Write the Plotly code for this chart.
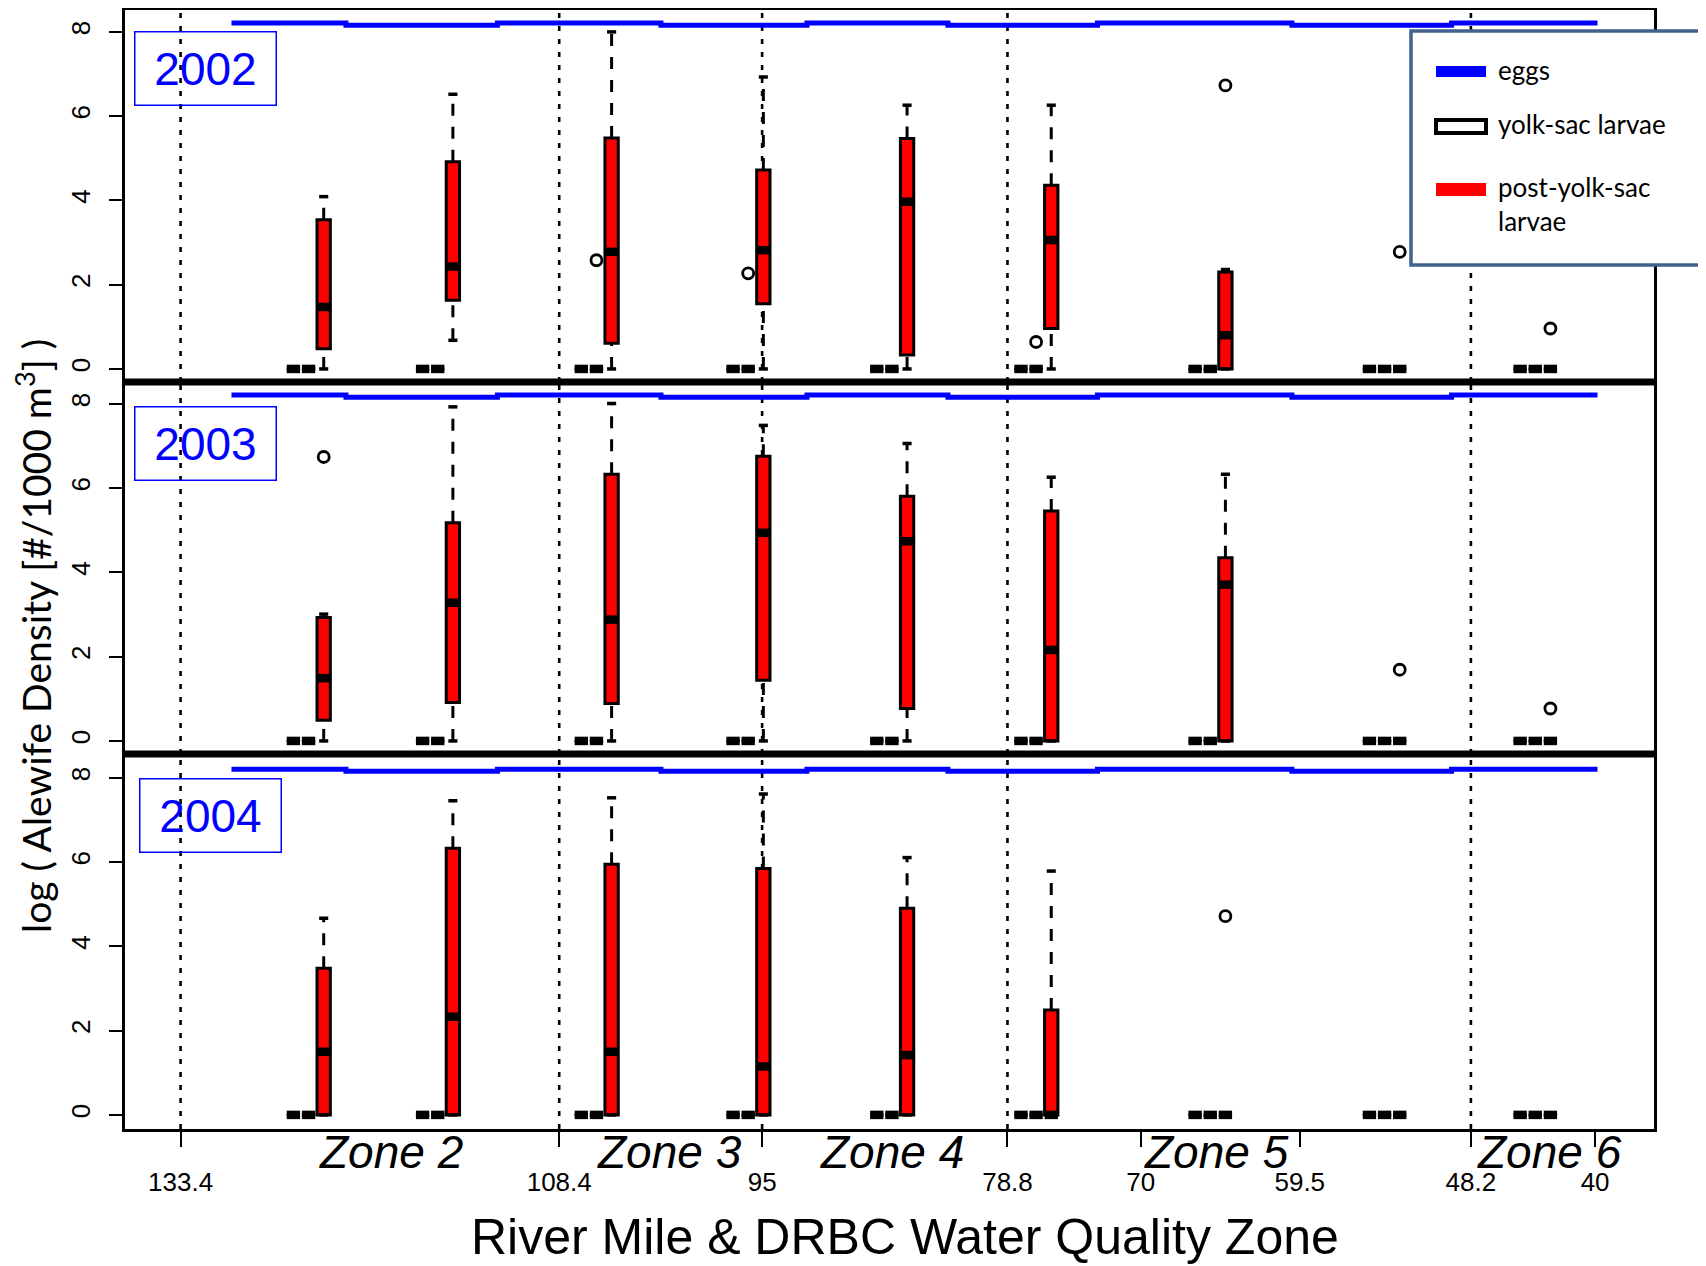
import plotly.graph_objects as go

# ---------------- data ----------------
years = ["2002", "2003", "2004"]
station_mile = [123.95, 115.42, 104.94, 94.92, 85.43, 75.91, 64.41, 52.90, 42.95]
zone_bounds = [133.4, 108.4, 95.0, 78.8, 48.2]
tick_miles = [133.4, 108.4, 95, 78.8, 70, 59.5, 48.2, 40]
tick_labels = ["133.4", "108.4", "95", "78.8", "70", "59.5", "48.2", "40"]
zone_names = ["Zone 2", "Zone 3", "Zone 4", "Zone 5", "Zone 6"]
zone_label_mile = [119.5, 101.1, 86.4, 65.0, 43.0]

# post-yolk-sac larvae: box statistics of log(density)
post_low = {
    "2002": [0.00, 0.68, 0.00, 0.00, 0.00, 0.00, 0.00, 0.00, 0.00],
    "2003": [0.00, 0.00, 0.00, 0.00, 0.00, 0.00, 0.00, 0.00, 0.00],
    "2004": [0.00, 0.00, 0.00, 0.00, 0.00, 0.00, 0.00, 0.00, 0.00],
}
post_q1 = {
    "2002": [0.48, 1.63, 0.61, 1.55, 0.33, 0.96, 0.00, 0.00, 0.00],
    "2003": [0.49, 0.91, 0.89, 1.44, 0.77, 0.00, 0.00, 0.00, 0.00],
    "2004": [0.00, 0.00, 0.00, 0.00, 0.00, 0.00, 0.00, 0.00, 0.00],
}
post_median = {
    "2002": [1.47, 2.43, 2.78, 2.82, 3.97, 3.06, 0.80, 0.00, 0.00],
    "2003": [1.49, 3.28, 2.88, 4.94, 4.74, 2.16, 3.71, 0.00, 0.00],
    "2004": [1.50, 2.33, 1.50, 1.15, 1.42, 0.00, 0.00, 0.00, 0.00],
}
post_q3 = {
    "2002": [3.54, 4.92, 5.48, 4.72, 5.47, 4.36, 2.30, 0.00, 0.00],
    "2003": [2.93, 5.18, 6.33, 6.76, 5.81, 5.46, 4.35, 0.00, 0.00],
    "2004": [3.48, 6.33, 5.95, 5.85, 4.91, 2.49, 0.00, 0.00, 0.00],
}
post_high = {
    "2002": [4.09, 6.52, 8.00, 6.93, 6.26, 6.26, 2.36, 0.00, 0.00],
    "2003": [3.01, 7.93, 8.01, 7.49, 7.06, 6.26, 6.33, 0.00, 0.00],
    "2004": [4.67, 7.46, 7.53, 7.62, 6.11, 5.79, 0.00, 0.00, 0.00],
}
# eggs and yolk-sac larvae boxes: every quartile at zero
eggs_box = {
    "2002": [0, 0, 0, 0, 0, 0, 0, 0, 0],
    "2003": [0, 0, 0, 0, 0, 0, 0, 0, 0],
    "2004": [0, 0, 0, 0, 0, 0, 0, 0, 0],
}
yolk_box = {
    "2002": [0, 0, 0, 0, 0, 0, 0, 0, 0],
    "2003": [0, 0, 0, 0, 0, 0, 0, 0, 0],
    "2004": [0, 0, 0, 0, 0, 0, 0, 0, 0],
}
# outliers: (station index, value)
yolk_out_station = {"2002": [2, 3, 5], "2003": [], "2004": []}
yolk_out_value = {"2002": [2.58, 2.27, 0.64], "2003": [], "2004": []}
post_out_station = {"2002": [6, 7, 8], "2003": [0, 7, 8], "2004": [6]}
post_out_value = {"2002": [6.73, 2.78, 0.96], "2003": [6.74, 1.69, 0.77], "2004": [4.72]}

# eggs line near the top of each panel (segment breaks in river miles, level per segment)
egg_break_mile = [130.04, 122.48, 112.48, 101.68, 92.04, 82.73, 72.86, 60.02, 49.48, 39.84]
egg_level = [8.21, 8.16, 8.21, 8.16, 8.21, 8.16, 8.21, 8.16, 8.21]

# ---------------- styling ----------------
# the page adds an 8px body margin, so the figure is 8px smaller than the window
OFF = 8
W, H = 1706 - OFF, 1266 - OFF
PL, PR, PT, PB = 125, 1654, 10, 1129          # plot area in window pixels
ML, MR, MT, MB = PL - OFF, 1706 - PR, PT - OFF, 1266 - PB
PW, PH = PR - PL, PB - PT
GAP = 1.0        # spacing between the three boxes of a station (miles)
BOXW = 0.88      # box width (miles)
CAPW = 0.30      # half-width of whisker staples
AX_FONT = "Liberation Sans, Arial, Helvetica, sans-serif"
CAL_FONT = "Lato, Open Sans, sans-serif"


def pxx(fx):
    return (fx - PL) / PW


def pxy(fy):
    return (PB - fy) / PH


# panel layout: top 2002, middle 2003, bottom 2004
axis_ids = {"2002": ("x3", "y3"), "2003": ("x2", "y2"), "2004": ("x", "y")}
yranges = {"2002": [-0.31, 8.52], "2003": [-0.31, 8.52], "2004": [-0.335, 8.57]}
b1, b2 = pxy(754), pxy(382)
ydomains = {"2002": [b2, 1.0], "2003": [b1, b2], "2004": [0.0, b1]}
year_label_pos = {"2002": (131.76, 7.14), "2003": (131.76, 7.07), "2004": (131.43, 7.12)}

fig = go.Figure()


def segs(xs0, xs1, ys0, ys1):
    X, Y = [], []
    for a, b, c, d in zip(xs0, xs1, ys0, ys1):
        X += [a, b, None]
        Y += [c, d, None]
    return X, Y


for yr in years:
    xa, ya = axis_ids[yr]
    groups = [
        (2, eggs_box[yr], eggs_box[yr], eggs_box[yr], eggs_box[yr], eggs_box[yr], "white", "eggs"),
        (1, yolk_box[yr], yolk_box[yr], yolk_box[yr], yolk_box[yr], yolk_box[yr], "white", "yolk-sac larvae"),
        (0, post_low[yr], post_q1[yr], post_median[yr], post_q3[yr], post_high[yr], "#FF0000",
         "post-yolk-sac larvae"),
    ]
    # eggs line
    ex, ey = [], []
    for i, lev in enumerate(egg_level):
        ex += [egg_break_mile[i], egg_break_mile[i + 1]]
        ey += [lev, lev]
    fig.add_trace(go.Scatter(x=ex, y=ey, mode="lines", line=dict(color="#0000FF", width=5),
                             xaxis=xa, yaxis=ya, showlegend=False, hoverinfo="skip", name="eggs"))
    for k, lo, q1, med, q3, hi, fill, name in groups:
        xs = [m + k * GAP for m in station_mile]
        # dashed whiskers
        wx0, wy0 = segs(xs, xs, q3, hi)
        wx1, wy1 = segs(xs, xs, lo, q1)
        fig.add_trace(go.Scatter(x=wx0 + wx1, y=wy0 + wy1, mode="lines",
                                 line=dict(color="black", width=3, dash="12px,11px"),
                                 xaxis=xa, yaxis=ya, showlegend=False, hoverinfo="skip"))
        # staples
        left = [x - CAPW for x in xs]
        right = [x + CAPW for x in xs]
        sx0, sy0 = segs(left, right, hi, hi)
        sx1, sy1 = segs(left, right, lo, lo)
        fig.add_trace(go.Scatter(x=sx0 + sx1, y=sy0 + sy1, mode="lines",
                                 line=dict(color="black", width=3.5),
                                 xaxis=xa, yaxis=ya, showlegend=False, hoverinfo="skip"))
        # boxes
        fig.add_trace(go.Box(x=xs, q1=q1, median=med, q3=q3, lowerfence=q1, upperfence=q3,
                             orientation="v", width=BOXW, fillcolor=fill,
                             line=dict(color="black", width=3), whiskerwidth=0,
                             boxpoints=False, xaxis=xa, yaxis=ya, showlegend=False,
                             hoverinfo="skip", name=name))
        # thick median bars
        mx, my = segs([x - BOXW / 2 for x in xs], [x + BOXW / 2 for x in xs], med, med)
        fig.add_trace(go.Scatter(x=mx, y=my, mode="lines", line=dict(color="black", width=8.5),
                                 xaxis=xa, yaxis=ya, showlegend=False, hoverinfo="skip"))
    # outliers
    ox = [station_mile[i] + GAP for i in yolk_out_station[yr]] + [station_mile[i] for i in post_out_station[yr]]
    oy = yolk_out_value[yr] + post_out_value[yr]
    fig.add_trace(go.Scatter(x=ox, y=oy, mode="markers",
                             marker=dict(symbol="circle-open", size=11, color="black", line=dict(width=2.8)),
                             xaxis=xa, yaxis=ya, showlegend=False, hoverinfo="skip"))

shapes = []
annotations = []
for yr in years:
    xa, ya = axis_ids[yr]
    for b in zone_bounds:
        shapes.append(dict(type="line", xref=xa, yref=f"{ya} domain", x0=b, x1=b, y0=0, y1=1,
                           line=dict(color="black", width=2.6, dash="5px,8px"), layer="below"))
    lx, ly = year_label_pos[yr]
    annotations.append(dict(text=yr, x=lx, y=ly, xref=xa, yref=ya, showarrow=False,
                            font=dict(family=AX_FONT, size=46, color="#0000FF"),
                            bordercolor="#0000FF", borderwidth=1.5, borderpad=0,
                            width=140, height=72, bgcolor="rgba(0,0,0,0)"))

# thick separators between panels
for yy in (b1, b2):
    shapes.append(dict(type="line", xref="paper", yref="paper", x0=0, x1=1, y0=yy, y1=yy,
                       line=dict(color="black", width=7)))

# zone labels
for name, m in zip(zone_names, zone_label_mile):
    annotations.append(dict(text=f"<i>{name}</i>", x=m, y=pxy(1152), xref="x", yref="paper",
                            showarrow=False, font=dict(family=AX_FONT, size=46, color="black"),
                            xanchor="center", yanchor="middle"))

# axis titles
annotations.append(dict(text="River Mile & DRBC Water Quality Zone", x=pxx(905), y=pxy(1237),
                        xref="paper", yref="paper", showarrow=False,
                        font=dict(family=AX_FONT, size=50, color="black"),
                        xanchor="center", yanchor="middle"))
annotations.append(dict(text="log ( Alewife Density [#/1000 m<sup>3</sup>] )", x=pxx(33), y=pxy(636),
                        xref="paper", yref="paper", showarrow=False, textangle=-90,
                        font=dict(family=CAL_FONT, size=39, color="black"),
                        xanchor="center", yanchor="middle"))

# legend (drawn box)
shapes.append(dict(type="rect", xref="paper", yref="paper", x0=pxx(1411), x1=pxx(1700),
                   y0=pxy(265), y1=pxy(31), line=dict(color="#41618F", width=3.5), fillcolor="white",
                   layer="above"))
shapes.append(dict(type="rect", xref="paper", yref="paper", x0=pxx(1436), x1=pxx(1486),
                   y0=pxy(77), y1=pxy(66), line=dict(width=0), fillcolor="#0000FF", layer="above"))
shapes.append(dict(type="rect", xref="paper", yref="paper", x0=pxx(1436), x1=pxx(1486),
                   y0=pxy(133), y1=pxy(120), line=dict(color="black", width=4), fillcolor="white",
                   layer="above"))
shapes.append(dict(type="rect", xref="paper", yref="paper", x0=pxx(1436), x1=pxx(1486),
                   y0=pxy(196), y1=pxy(183), line=dict(width=0), fillcolor="#FF0000", layer="above"))
for txt, fy in (("eggs", 70), ("yolk-sac larvae", 124), ("post-yolk-sac<br>larvae", 204)):
    annotations.append(dict(text=txt, x=pxx(1496), y=pxy(fy), xref="paper", yref="paper",
                            showarrow=False, xanchor="left", yanchor="middle", align="left",
                            font=dict(family=CAL_FONT, size=26, color="black")))

layout = dict(
    width=W, height=H, margin=dict(l=ML, r=MR, t=MT, b=MB, pad=0, autoexpand=False),
    paper_bgcolor="white", plot_bgcolor="white",
    showlegend=False, shapes=shapes, annotations=annotations,
)
xrange_ = [137.07, 36.11]
for yr in years:
    xa, ya = axis_ids[yr]
    xkey = "xaxis" if xa == "x" else "xaxis" + xa[1:]
    ykey = "yaxis" if ya == "y" else "yaxis" + ya[1:]
    bottom = (xa == "x")
    layout[xkey] = dict(
        range=xrange_, anchor=ya, domain=[0, 1], showgrid=False, zeroline=False,
        showline=True, linecolor="black", linewidth=3, mirror=True,
        tickmode="array", tickvals=tick_miles, ticktext=tick_labels,
        ticks="outside" if bottom else "", ticklen=15, tickwidth=1.5, tickcolor="black",
        showticklabels=bottom, tickfont=dict(family=AX_FONT, size=26, color="black"),
        ticklabelstandoff=13,
    )
    if not bottom:
        layout[xkey]["matches"] = "x"
    layout[ykey] = dict(
        range=yranges[yr], domain=ydomains[yr], anchor=xa, showgrid=False, zeroline=False,
        showline=True, linecolor="black", linewidth=3, mirror=True,
        tickmode="array", tickvals=[0, 2, 4, 6, 8], ticktext=["0", "2", "4", "6", "8"],
        ticks="outside", ticklen=13, tickwidth=1.5, tickcolor="black", tickangle=-90,
        tickfont=dict(family=AX_FONT, size=26, color="black"), ticklabelstandoff=9,
    )
fig.update_layout(**layout)
fig.write_html("out.html")
